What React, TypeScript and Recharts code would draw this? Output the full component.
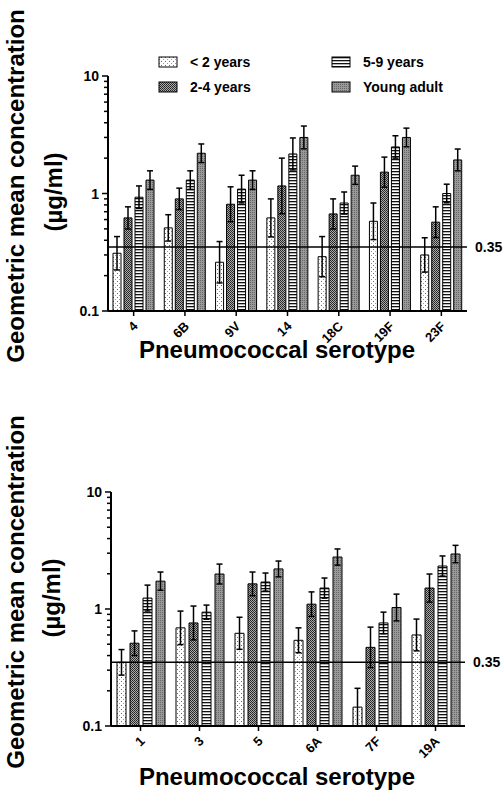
import React from "react";
import { BarChart, Bar, XAxis, YAxis, ErrorBar, ReferenceLine, Label } from "recharts";

// values (µg/ml), upper whisker tips in *Hi arrays
const topCats = ["4", "6B", "9V", "14", "18C", "19F", "23F"];
const topUnder2 = [0.31, 0.51, 0.26, 0.62, 0.29, 0.58, 0.3];
const topUnder2Hi = [0.43, 0.66, 0.39, 0.9, 0.43, 0.83, 0.42];
const top2to4 = [0.62, 0.9, 0.81, 1.16, 0.67, 1.52, 0.57];
const top2to4Hi = [0.77, 1.11, 1.14, 2.0, 0.9, 2.04, 0.77];
const top5to9 = [0.93, 1.3, 1.09, 2.17, 0.83, 2.49, 1.0];
const top5to9Hi = [1.16, 1.56, 1.43, 2.97, 1.03, 3.1, 1.2];
const topAdult = [1.3, 2.2, 1.3, 3.0, 1.43, 3.0, 1.93];
const topAdultHi = [1.56, 2.64, 1.56, 3.75, 1.71, 3.6, 2.39];

const botCats = ["1", "3", "5", "6A", "7F", "19A"];
const botUnder2 = [0.35, 0.69, 0.62, 0.54, 0.145, 0.6];
const botUnder2Hi = [0.45, 0.96, 0.85, 0.69, 0.21, 0.82];
const bot2to4 = [0.51, 0.76, 1.64, 1.1, 0.47, 1.51];
const bot2to4Hi = [0.65, 1.06, 2.07, 1.4, 0.7, 1.99];
const bot5to9 = [1.24, 0.94, 1.7, 1.51, 0.76, 2.33];
const bot5to9Hi = [1.6, 1.08, 2.03, 1.84, 0.94, 2.84];
const botAdult = [1.73, 1.99, 2.2, 2.78, 1.03, 2.95];
const botAdultHi = [2.07, 2.42, 2.57, 3.26, 1.34, 3.5];

const seriesNames = ["< 2 years", "2-4 years", "5-9 years", "Young adult"];
const yTicks = [0.1, 0.2, 0.3, 0.4, 0.5, 0.6, 0.7, 0.8, 0.9, 1, 2, 3, 4, 5, 6, 7, 8, 9, 10];
const yMajor = [0.1, 1, 10];
const threshold = 0.35;

const FONT = "'Liberation Sans', Arial, Helvetica, sans-serif";
const fills = ["url(#pDots)", "url(#pCheck)", "url(#pStripes)", "url(#pGray)"];

// error whiskers are symmetric on the log scale, so the lower tip mirrors the upper one
const err = (v: number, hi: number): [number, number] => [v - (v * v) / hi, hi - v];

function buildRows(cats: string[], vals: number[][], his: number[][]) {
  return cats.map((c, i) => ({
    cat: c,
    s0: vals[0][i], e0: err(vals[0][i], his[0][i]),
    s1: vals[1][i], e1: err(vals[1][i], his[1][i]),
    s2: vals[2][i], e2: err(vals[2][i], his[2][i]),
    s3: vals[3][i], e3: err(vals[3][i], his[3][i]),
  }));
}

const topRows = buildRows(topCats, [topUnder2, top2to4, top5to9, topAdult], [topUnder2Hi, top2to4Hi, top5to9Hi, topAdultHi]);
const botRows = buildRows(botCats, [botUnder2, bot2to4, bot5to9, botAdult], [botUnder2Hi, bot2to4Hi, bot5to9Hi, botAdultHi]);

function YTick({ x, y, payload }: any) {
  const major = yMajor.includes(payload.value);
  return (
    <g>
      <line x1={x - (major ? 6 : 4)} x2={x} y1={y} y2={y} stroke="#000" strokeWidth={1.5} />
      {major && (
        <text x={x - 9} y={y} dy={5} textAnchor="end" fontSize={14} fontWeight="bold" fontFamily={FONT} fill="#000">
          {payload.value}
        </text>
      )}
    </g>
  );
}

function XTick({ x, y, payload }: any) {
  const ax = x + 5;
  const ay = y + 11;
  return (
    <text x={ax} y={ay} transform={`rotate(-45 ${ax} ${ay})`} textAnchor="end" fontSize={13} fontWeight="bold" fontFamily={FONT} fill="#000">
      {payload.value}
    </text>
  );
}

function Patterns() {
  return (
    <defs>
      <pattern id="pDots" width="4" height="4" patternUnits="userSpaceOnUse">
        <rect width="4" height="4" fill="#fff" />
        <rect x="1" y="1" width="1" height="1" fill="#666" />
        <rect x="3" y="3" width="1" height="1" fill="#999" />
      </pattern>
      <pattern id="pCheck" width="2" height="2" patternUnits="userSpaceOnUse">
        <rect width="2" height="2" fill="#aaa" />
        <rect x="0" y="0" width="1" height="1" fill="#222" />
        <rect x="1" y="1" width="1" height="1" fill="#333" />
      </pattern>
      <pattern id="pStripes" width="4" height="3" patternUnits="userSpaceOnUse">
        <rect width="4" height="3" fill="#fff" />
        <rect x="0" y="0" width="4" height="1.3" fill="#111" />
      </pattern>
      <pattern id="pGray" width="2" height="2" patternUnits="userSpaceOnUse">
        <rect width="2" height="2" fill="#999" />
        <rect x="0" y="0" width="1" height="1" fill="#666" />
      </pattern>
    </defs>
  );
}

function LegendBlock() {
  const items = [
    { x: 159, y: 57 },
    { x: 159, y: 82 },
    { x: 332, y: 57 },
    { x: 332, y: 82 },
  ];
  return (
    <g>
      {items.map((p, i) => (
        <g key={seriesNames[i]}>
          <rect x={p.x} y={p.y} width={18} height={10} fill={fills[i]} stroke="#000" strokeWidth={1} />
          <text x={p.x + 31} y={p.y + 10} fontSize={14} fontWeight="bold" fontFamily={FONT} fill="#000">
            {seriesNames[i]}
          </text>
        </g>
      ))}
    </g>
  );
}

function YTitle({ cx1, cx2, cy }: { cx1: number; cx2: number; cy: number }) {
  return (
    <g>
      <text x={cx1} y={cy} transform={`rotate(-90 ${cx1} ${cy})`} textAnchor="middle" fontSize={24} fontWeight="bold" fontFamily={FONT} fill="#000">
        Geometric mean concentration
      </text>
      <text x={cx2} y={cy + 6} transform={`rotate(-90 ${cx2} ${cy + 6})`} textAnchor="middle" fontSize={24} fontWeight="bold" fontFamily={FONT} fill="#000">
        (µg/ml)
      </text>
    </g>
  );
}

function XTitle({ cx, y }: { cx: number; y: number }) {
  return (
    <text x={cx} y={y} textAnchor="middle" fontSize={24} fontWeight="bold" fontFamily={FONT} fill="#000">
      Pneumococcal serotype
    </text>
  );
}

function Panel({ rows, margin, xHeight, barSize, barGap, yTitle, xTitleY, legend }: any) {
  return (
    <BarChart width={504} height={396} data={rows} margin={margin} barSize={barSize} barGap={barGap}>
      <Patterns />
      {legend && <LegendBlock />}
      <XAxis
        dataKey="cat"
        height={xHeight}
        axisLine={{ stroke: "#000", strokeWidth: 2 }}
        tickLine={{ stroke: "#000", strokeWidth: 1.5 }}
        tickSize={5}
        tickMargin={0}
        interval={0}
        tick={<XTick />}
      >
        <Label content={() => <XTitle cx={277} y={xTitleY} />} />
      </XAxis>
      <YAxis
        scale="log"
        domain={[0.1, 10]}
        allowDataOverflow
        ticks={yTicks}
        interval={0}
        width={60}
        tickSize={0}
        tickMargin={0}
        tickLine={false}
        axisLine={{ stroke: "#000", strokeWidth: 2 }}
        tick={<YTick />}
      >
        <Label content={() => <YTitle cx1={yTitle[0]} cx2={yTitle[1]} cy={yTitle[2]} />} />
      </YAxis>
      <ReferenceLine
        y={threshold}
        stroke="#000"
        strokeWidth={1.5}
        label={{ value: "0.35", position: "right", fontSize: 14, fontWeight: "bold", fill: "#000", fontFamily: FONT, offset: 8 }}
      />
      {[0, 1, 2, 3].map((i) => (
        <Bar key={i} dataKey={`s${i}`} name={seriesNames[i]} fill={fills[i]} stroke="#000" strokeWidth={1} isAnimationActive={false}>
          <ErrorBar dataKey={`e${i}`} width={3} stroke="#000" strokeWidth={1.5} direction="y" />
        </Bar>
      ))}
    </BarChart>
  );
}

export default function App() {
  return (
    <div style={{ position: "absolute", left: 0, top: 0, width: 504, height: 792, background: "#fff", fontFamily: FONT }}>
      <div style={{ position: "absolute", left: 0, top: 0 }}>
        <Panel
          rows={topRows}
          margin={{ top: 76, right: 37, left: 48, bottom: 0 }}
          xHeight={85}
          barSize={8}
          barGap={3}
          yTitle={[24, 62, 186]}
          xTitleY={358}
          legend
        />
      </div>
      <div style={{ position: "absolute", left: 0, top: 396 }}>
        <Panel
          rows={botRows}
          margin={{ top: 96, right: 39, left: 51, bottom: 0 }}
          xHeight={66}
          barSize={9}
          barGap={4}
          yTitle={[24, 60, 196]}
          xTitleY={389}
        />
      </div>
    </div>
  );
}
